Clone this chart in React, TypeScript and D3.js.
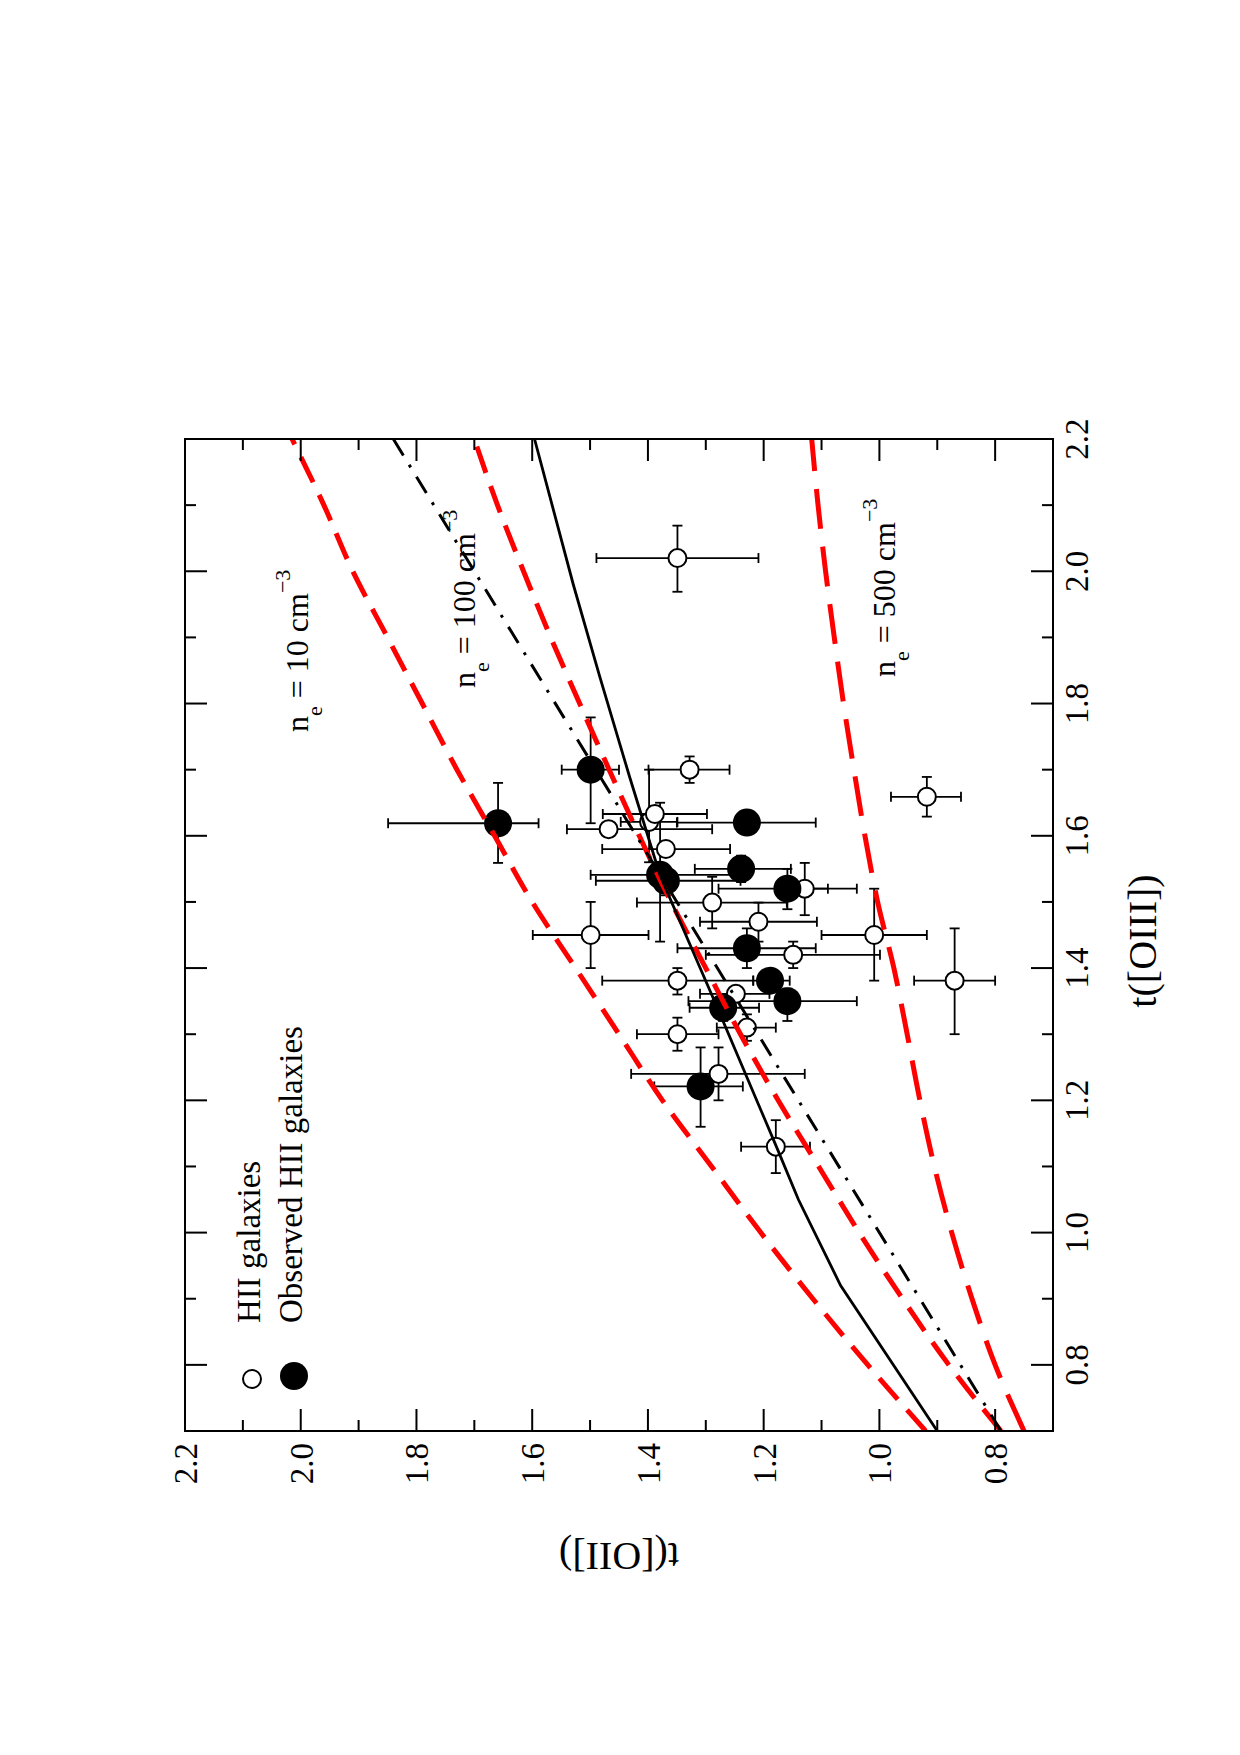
import React from "react";
import * as d3 from "d3";

// Plot frame (unrotated chart space); the whole chart is turned a quarter turn
const W = 992; // t([OIII]) axis length
const H = 868; // t([OII]) axis length
const ORIGIN_X = 185;
const ORIGIN_Y = 1431;

const majorTicks = [0.8, 1.0, 1.2, 1.4, 1.6, 1.8, 2.0, 2.2];
const minorTicks = [0.7, 0.9, 1.1, 1.3, 1.5, 1.7, 1.9, 2.1];

// HII galaxies (open circles): t([OIII]), t([OII]) and error-bar bounds
const hiiT3 = [1.70, 1.621, 1.633, 1.61, 1.58, 1.52, 1.499, 1.47, 1.45, 1.45, 1.42, 1.381, 1.361, 1.31, 1.30, 1.24, 1.13, 1.659, 1.381, 2.02];
const hiiT2 = [1.328, 1.398, 1.388, 1.468, 1.369, 1.129, 1.289, 1.209, 1.499, 1.009, 1.149, 1.349, 1.248, 1.229, 1.349, 1.278, 1.179, 0.918, 0.870, 1.349];
const hiiT3Lo = [1.68, 1.56, 1.62, 1.60, 1.57, 1.48, 1.46, 1.44, 1.40, 1.381, 1.40, 1.36, 1.35, 1.29, 1.275, 1.20, 1.09, 1.629, 1.30, 1.969];
const hiiT3Hi = [1.72, 1.70, 1.645, 1.62, 1.59, 1.559, 1.538, 1.499, 1.50, 1.52, 1.44, 1.40, 1.37, 1.33, 1.325, 1.28, 1.17, 1.689, 1.46, 2.069];
const hiiT2Lo = [1.259, 1.349, 1.298, 1.289, 1.258, 1.089, 1.16, 1.108, 1.399, 0.918, 0.999, 1.218, 1.19, 1.179, 1.278, 1.129, 1.12, 0.859, 0.80, 1.209];
const hiiT2Hi = [1.399, 1.447, 1.478, 1.54, 1.479, 1.17, 1.419, 1.31, 1.599, 1.10, 1.30, 1.479, 1.31, 1.281, 1.419, 1.429, 1.239, 0.98, 0.94, 1.489];

// Observed HII galaxies (filled circles)
const obsT3 = [1.619, 1.70, 1.62, 1.541, 1.532, 1.55, 1.52, 1.43, 1.381, 1.35, 1.34, 1.221];
const obsT2 = [1.659, 1.499, 1.229, 1.379, 1.369, 1.239, 1.159, 1.229, 1.189, 1.159, 1.27, 1.309];
const obsT3Lo = [1.559, 1.619, 1.61, 1.44, 1.51, 1.53, 1.489, 1.40, 1.37, 1.32, 1.32, 1.16];
const obsT3Hi = [1.68, 1.779, 1.63, 1.65, 1.55, 1.57, 1.55, 1.46, 1.39, 1.369, 1.36, 1.28];
const obsT2Lo = [1.589, 1.45, 1.11, 1.25, 1.24, 1.153, 1.039, 1.11, 1.155, 1.039, 1.208, 1.236];
const obsT2Hi = [1.849, 1.549, 1.35, 1.499, 1.49, 1.319, 1.278, 1.349, 1.218, 1.33, 1.328, 1.389];

// Relations t([OII]) vs t([OIII])
const solidT3 = [0.70, 0.92, 1.05, 1.13, 1.34, 1.54, 1.69, 1.84, 1.98, 2.20];
const solidT2 = [0.900, 1.067, 1.140, 1.178, 1.280, 1.379, 1.432, 1.483, 1.529, 1.596];

const dashDotT3 = [0.70, 2.20];
const dashDotT2 = [0.79, 1.84];

const neT3 = [0.7, 0.8, 0.9, 1.0, 1.1, 1.2, 1.3, 1.4, 1.5, 1.6, 1.7, 1.8, 1.9, 2.0, 2.1, 2.2];
const ne10T2 = [0.92, 1.02, 1.115, 1.205, 1.29, 1.375, 1.45, 1.525, 1.60, 1.665, 1.73, 1.79, 1.85, 1.91, 1.96, 2.015];
const ne100T2 = [0.79, 0.88, 0.96, 1.035, 1.105, 1.175, 1.24, 1.30, 1.36, 1.415, 1.467, 1.518, 1.568, 1.615, 1.66, 1.70];
const ne500T2 = [0.75, 0.80, 0.84, 0.875, 0.905, 0.93, 0.952, 0.975, 1.003, 1.025, 1.044, 1.062, 1.078, 1.093, 1.106, 1.117];

const FONT = "'Liberation Serif', 'Times New Roman', Times, serif";
const RED = "#ff0000";

export default function App() {
  const x = d3.scaleLinear().domain([0.7, 2.2]).range([0, W]);
  const y = d3.scaleLinear().domain([0.7, 2.2]).range([H, 0]);
  const fmt = d3.format(".1f");

  const line = d3
    .line<[number, number]>()
    .x((d) => x(d[0]))
    .y((d) => y(d[1]));
  const smooth = d3
    .line<[number, number]>()
    .x((d) => x(d[0]))
    .y((d) => y(d[1]))
    .curve(d3.curveMonotoneX);

  const zip = (a: number[], b: number[]) => a.map((v, i) => [v, b[i]] as [number, number]);

  const cap = 5;
  const errBars = (t3: number[], t2: number[], lo3: number[], hi3: number[], lo2: number[], hi2: number[], key: string) =>
    t3.map((v, i) => {
      const cx = x(v);
      const cy = y(t2[i]);
      const x0 = x(lo3[i]);
      const x1 = x(hi3[i]);
      const y0 = y(lo2[i]);
      const y1 = y(hi2[i]);
      return (
        <g key={key + i} stroke="#000" strokeWidth={1.8} fill="none">
          <line x1={x0} y1={cy} x2={x1} y2={cy} />
          <line x1={x0} y1={cy - cap} x2={x0} y2={cy + cap} />
          <line x1={x1} y1={cy - cap} x2={x1} y2={cy + cap} />
          <line x1={cx} y1={y0} x2={cx} y2={y1} />
          <line x1={cx - cap} y1={y0} x2={cx + cap} y2={y0} />
          <line x1={cx - cap} y1={y1} x2={cx + cap} y2={y1} />
        </g>
      );
    });

  const tickMarks = (vals: number[], len: number, key: string) =>
    vals.map((v) => (
      <g key={key + v} stroke="#000" strokeWidth={2}>
        <line x1={x(v)} y1={H} x2={x(v)} y2={H - len} />
        <line x1={x(v)} y1={0} x2={x(v)} y2={len} />
        <line x1={0} y1={y(v)} x2={len} y2={y(v)} />
        <line x1={W} y1={y(v)} x2={W - len} y2={y(v)} />
      </g>
    ));

  const densityLabel = (ox: number, oy: number, n: string) => (
    <text x={ox} y={oy} fontSize={32}>
      n<tspan dy={14} fontSize={22}>e</tspan>
      <tspan dy={-14}>{` = ${n} cm`}</tspan>
      <tspan dy={-18} fontSize={22}>−3</tspan>
    </text>
  );

  return (
    <svg
      width={1240}
      height={1755}
      style={{ position: "absolute", left: 0, top: 0, background: "#fff" }}
      fontFamily={FONT}
    >
      <rect width={1240} height={1755} fill="#fff" />
      <defs>
        <clipPath id="frame">
          <rect x={0} y={0} width={W} height={H} />
        </clipPath>
      </defs>
      <g transform={`translate(${ORIGIN_X},${ORIGIN_Y}) rotate(-90)`}>
        {/* error bars and points */}
        {errBars(hiiT3, hiiT2, hiiT3Lo, hiiT3Hi, hiiT2Lo, hiiT2Hi, "he")}
        {errBars(obsT3, obsT2, obsT3Lo, obsT3Hi, obsT2Lo, obsT2Hi, "oe")}
        {hiiT3.map((v, i) => (
          <circle key={"h" + i} cx={x(v)} cy={y(hiiT2[i])} r={9} fill="#fff" stroke="#000" strokeWidth={2} />
        ))}
        {obsT3.map((v, i) => (
          <circle key={"o" + i} cx={x(v)} cy={y(obsT2[i])} r={14} fill="#000" />
        ))}

        {/* relations */}
        <g clipPath="url(#frame)" fill="none">
          <path d={smooth(zip(neT3, ne10T2)) || ""} stroke={RED} strokeWidth={5} strokeDasharray="28 14" />
          <path d={smooth(zip(neT3, ne100T2)) || ""} stroke={RED} strokeWidth={5} strokeDasharray="28 14" />
          <path d={smooth(zip(neT3, ne500T2)) || ""} stroke={RED} strokeWidth={5} strokeDasharray="40 18" />
          <path d={line(zip(dashDotT3, dashDotT2)) || ""} stroke="#000" strokeWidth={3} strokeDasharray="19 11 3 11" />
          <path d={line(zip(solidT3, solidT2)) || ""} stroke="#000" strokeWidth={2.8} />
        </g>

        {/* frame and ticks */}
        <rect x={0} y={0} width={W} height={H} fill="none" stroke="#000" strokeWidth={2} />
        {tickMarks(majorTicks, 22, "M")}
        {tickMarks(minorTicks, 11, "m")}

        {/* tick labels */}
        {majorTicks.map((v) => (
          <text key={"xl" + v} x={x(v)} y={H + 35} fontSize={33} textAnchor="middle">
            {fmt(v)}
          </text>
        ))}
        {majorTicks.map((v) => (
          <text key={"yl" + v} x={-12} y={y(v)} dy="0.36em" fontSize={33} textAnchor="end">
            {fmt(v)}
          </text>
        ))}

        {/* axis titles */}
        <text x={490} y={H + 103} fontSize={40} textAnchor="middle">
          t([OIII])
        </text>
        <text transform={`translate(-112,${H / 2}) rotate(-90)`} fontSize={40} textAnchor="middle">
          t([OII])
        </text>

        {/* density labels */}
        {densityLabel(699, 123, "10")}
        {densityLabel(743, 290, "100")}
        {densityLabel(754, 710, "500")}

        {/* legend */}
        <circle cx={52} cy={67} r={9} fill="#fff" stroke="#000" strokeWidth={2} />
        <text x={108} y={75} fontSize={33}>
          HII galaxies
        </text>
        <circle cx={55} cy={109} r={14} fill="#000" />
        <text x={108} y={117} fontSize={33}>
          Observed HII galaxies
        </text>
      </g>
    </svg>
  );
}
